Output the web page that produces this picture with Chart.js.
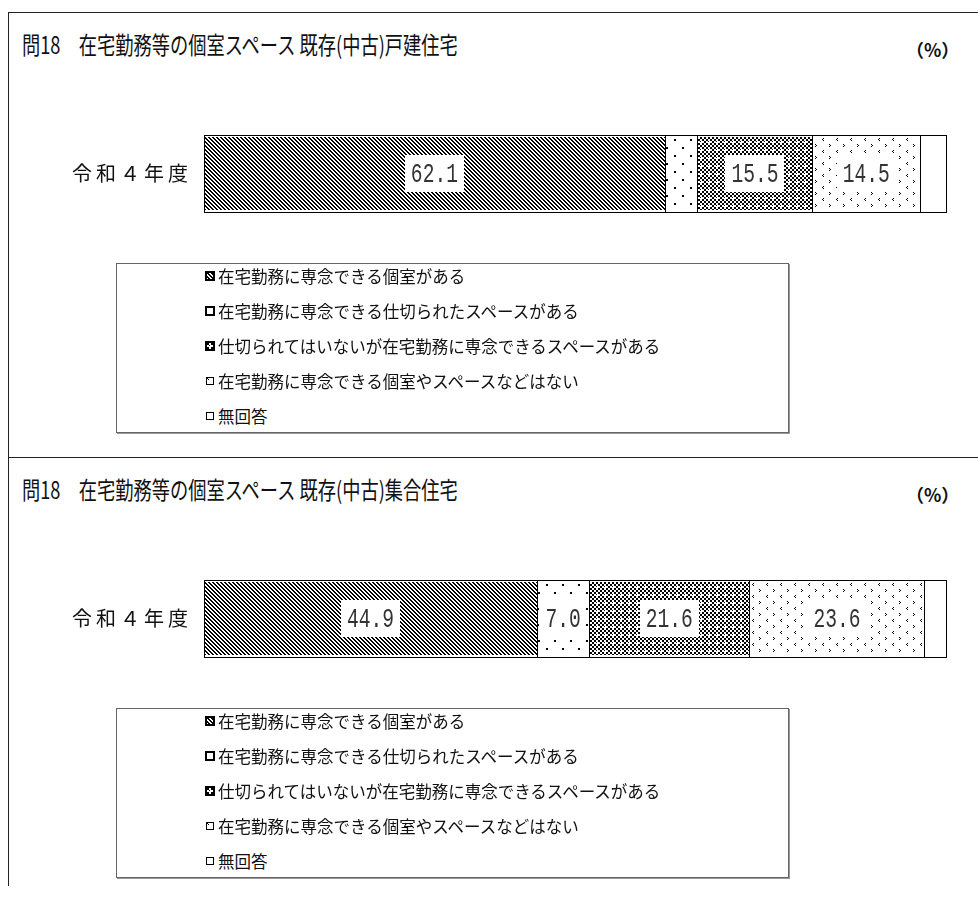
<!DOCTYPE html>
<html>
<head>
<meta charset="utf-8">
<script src="https://cdn.jsdelivr.net/npm/chart.js@4/dist/chart.umd.min.js"></script>
<style>
  body { margin: 0; width: 978px; height: 898px; position: relative; background: #fff; overflow: hidden;
         font-family: "Noto Sans CJK JP", "Noto Sans", sans-serif; color: #111; }
  .line { position: absolute; background: #222; }
  .title { position: absolute; left: 22px; font-size: 24px; white-space: nowrap; line-height: 1;
           transform: scaleX(0.76); transform-origin: 0 0; }
  .unit { position: absolute; left: 906px; font-size: 18px; font-weight: bold; line-height: 1; white-space: nowrap; }
  .legendBox { position: absolute; left: 116px; width: 673px; height: 170px; border: 1px solid #666;
               box-shadow: 1px 1px 0 #999; box-sizing: border-box; }
  .legendRow { position: absolute; left: 205px; height: 35px; display: flex; align-items: center;
               font-size: 16.5px; white-space: nowrap; }
  .legendRow canvas { margin-right: 3px; }
  .chart { position: absolute; left: 8px; }
</style>
</head>
<body>
<div class="line" style="left:8px; top:12px; width:970px; height:1px;"></div>
<div class="line" style="left:8px; top:12px; width:1px; height:874px;"></div>
<div class="line" style="left:8px; top:457px; width:970px; height:1px;"></div>
<div id="panels"></div>

<script>
// データ
const categories = ['令和４年度'];
const seriesLabels = [
  '在宅勤務に専念できる個室がある',
  '在宅勤務に専念できる仕切られたスペースがある',
  '仕切られてはいないが在宅勤務に専念できるスペースがある',
  '在宅勤務に専念できる個室やスペースなどはない',
  '無回答'
];
const titles = [
  '問18　在宅勤務等の個室スペース 既存(中古)戸建住宅',
  '問18　在宅勤務等の個室スペース 既存(中古)集合住宅'
];
const kodateValues = [62.1, 4.4, 15.5, 14.5, 3.5];
const shugoValues = [44.9, 7.0, 21.6, 23.6, 2.9];
const panelValues = [kodateValues, shugoValues];

// 網掛けパターン
function makeTile(w, h, draw) {
  const c = document.createElement('canvas');
  c.width = w; c.height = h;
  const g = c.getContext('2d');
  g.fillStyle = '#fff';
  g.fillRect(0, 0, w, h);
  g.fillStyle = '#000';
  draw(g);
  return c;
}
const tiles = [
  // 斜線
  makeTile(4, 4, g => {
    for (let y = 0; y < 4; y++) for (let x = 0; x < 4; x++) {
      if (((x - y) % 4 + 4) % 4 < 2) g.fillRect(x, y, 1, 1);
    }
  }),
  // 点
  makeTile(16, 16, g => { g.fillRect(2, 2, 2, 2); g.fillRect(10, 10, 2, 2); }),
  // 市松
  makeTile(8, 8, g => {
    for (let y = 0; y < 8; y++) for (let x = 0; x < 8; x++) {
      if ((Math.floor(x / 2) + Math.floor(y / 2)) % 2 === 0) g.fillRect(x, y, 1, 1);
    }
    g.fillStyle = '#fff';
    g.fillRect(5, 4, 1, 3); g.fillRect(4, 5, 3, 1);
  }),
  // < > の点
  makeTile(14, 12, g => {
    g.fillRect(3, 1, 1, 1); g.fillRect(2, 2, 1, 1); g.fillRect(3, 3, 1, 1);
    g.fillRect(9, 7, 1, 1); g.fillRect(10, 8, 1, 1); g.fillRect(9, 9, 1, 1);
  }),
  null
];

function patternFor(ctx, i) {
  if (!tiles[i]) return '#fff';
  return ctx.createPattern(tiles[i], 'repeat');
}

// 棒の枠線（ピクセルに合わせて描く）
const crispOutline = {
  id: 'crispOutline',
  afterDatasetsDraw(chart) {
    const ctx = chart.ctx;
    ctx.save();
    ctx.strokeStyle = '#000';
    ctx.lineWidth = 1;
    chart.data.datasets.forEach((ds, di) => {
      chart.getDatasetMeta(di).data.forEach(bar => {
        const x0 = Math.round(Math.min(bar.x, bar.base));
        const x1 = Math.round(Math.max(bar.x, bar.base));
        const y0 = Math.round(bar.y - bar.height / 2);
        const y1 = Math.round(bar.y + bar.height / 2);
        ctx.strokeRect(x0 + 0.5, y0 + 0.5, x1 - x0, y1 - y0);
      });
    });
    ctx.restore();
  }
};

// 値ラベル（白い枠付き）
const valueLabels = {
  id: 'valueLabels',
  afterDatasetsDraw(chart) {
    const ctx = chart.ctx;
    ctx.save();
    ctx.letterSpacing = '0px';
    ctx.font = '28px "Liberation Mono", monospace';
    chart.data.datasets.forEach((ds, di) => {
      const meta = chart.getDatasetMeta(di);
      meta.data.forEach((bar, i) => {
        const v = ds.data[i];
        if (v < 5) return;
        const text = v.toFixed(1);
        const cx = (bar.x + bar.base) / 2;
        const segW = Math.abs(bar.x - bar.base);
        const tw = ctx.measureText(text).width * 0.7;
        const w = Math.min(tw + 12, segW - 3);
        const h = 37;
        ctx.fillStyle = '#fff';
        ctx.fillRect(Math.round(cx - w / 2), Math.round(bar.y - h / 2), Math.round(w), h);
        ctx.save();
        ctx.translate(cx, bar.y + 1);
        ctx.scale(0.7, 1);
        ctx.textAlign = 'center';
        ctx.textBaseline = 'middle';
        ctx.fillStyle = '#333';
        ctx.fillText(text, 0, 0);
        ctx.restore();
      });
    });
    ctx.restore();
  }
};

// 縦軸ラベルの字間
const tickSpacing = {
  id: 'tickSpacing',
  beforeDraw(chart) { chart.ctx.letterSpacing = '4px'; },
  beforeDatasetsDraw(chart) { chart.ctx.letterSpacing = '0px'; }
};

const panelOffset = 445;
const panels = document.getElementById('panels');

panelValues.forEach((values, p) => {
  const top = p * panelOffset;

  const t = document.createElement('div');
  t.className = 'title';
  t.style.top = (top + 32) + 'px';
  t.textContent = titles[p];
  panels.appendChild(t);

  const u = document.createElement('div');
  u.className = 'unit';
  u.style.top = (top + 40) + 'px';
  u.textContent = '（%）';
  panels.appendChild(u);

  const canvas = document.createElement('canvas');
  canvas.className = 'chart';
  canvas.width = 939;
  canvas.height = 121;
  canvas.style.top = (top + 113) + 'px';
  panels.appendChild(canvas);
  const ctx = canvas.getContext('2d');

  new Chart(ctx, {
    type: 'bar',
    data: {
      labels: categories,
      datasets: seriesLabels.map((label, i) => ({
        label: label,
        data: [values[i]],
        backgroundColor: patternFor(ctx, i),
        borderWidth: 0,
        barThickness: 77
      }))
    },
    options: {
      indexAxis: 'y',
      responsive: false,
      animation: false,
      layout: { padding: { right: 1, top: 0, bottom: 0 } },
      plugins: {
        legend: { display: false },
        tooltip: { enabled: false }
      },
      scales: {
        x: { stacked: true, min: 0, max: 100, display: false },
        y: {
          stacked: true,
          grid: { display: false, drawTicks: false },
          border: { display: false },
          ticks: {
            padding: 12,
            color: '#111',
            font: { family: '"Noto Sans CJK JP", sans-serif', size: 20 }
          },
          afterFit(axis) { axis.width = 196; }
        }
      }
    },
    plugins: [tickSpacing, crispOutline, valueLabels]
  });

  // 凡例
  const box = document.createElement('div');
  box.className = 'legendBox';
  box.style.top = (top + 263) + 'px';
  panels.appendChild(box);

  seriesLabels.forEach((label, i) => {
    const row = document.createElement('div');
    row.className = 'legendRow';
    row.style.top = (top + 258 + i * 35) + 'px';
    const m = document.createElement('canvas');
    m.width = 10; m.height = 10;
    const g = m.getContext('2d');
    g.fillStyle = '#fff';
    g.fillRect(0, 0, 10, 10);
    if (tiles[i] && i !== 1) {
      g.fillStyle = g.createPattern(tiles[i], 'repeat');
      g.fillRect(2, 2, 6, 6);
    }
    g.strokeStyle = '#000';
    g.lineWidth = (i === 0 || i === 1 || i === 2) ? 2 : 1;
    if (g.lineWidth === 2) g.strokeRect(1, 1, 8, 8); else g.strokeRect(1.5, 1.5, 7, 7);
    row.appendChild(m);
    const s = document.createElement('span');
    s.textContent = label;
    row.appendChild(s);
    panels.appendChild(row);
  });
});
</script>
</body>
</html>
